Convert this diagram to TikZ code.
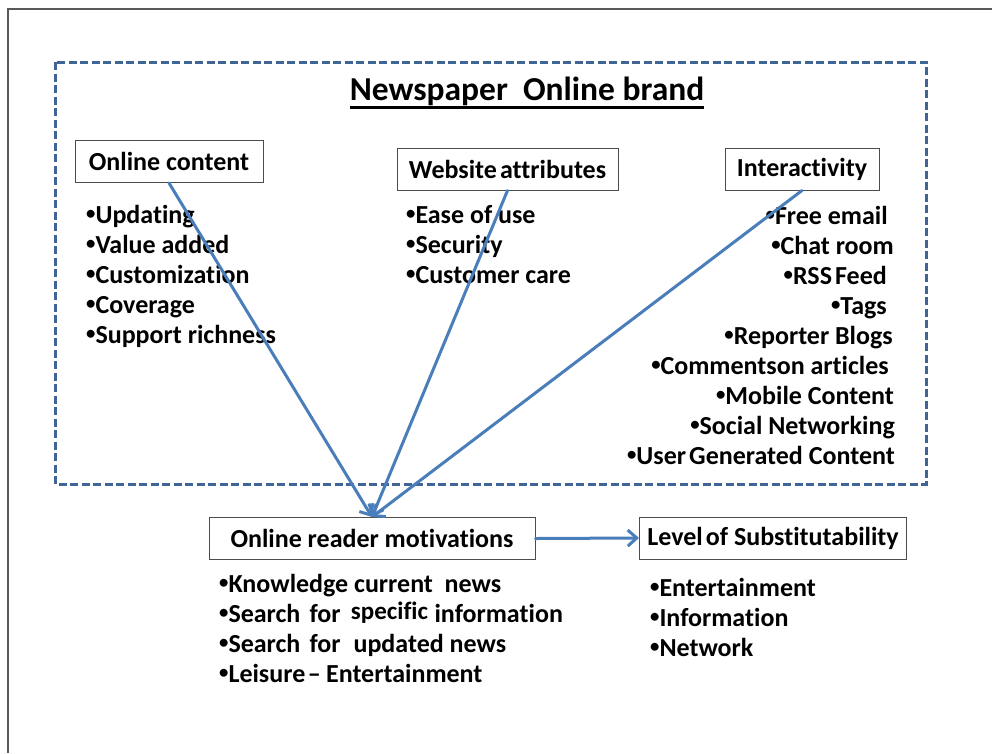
\documentclass[tikz,border=0pt]{standalone}
\usepackage{fontspec}
\usepackage{graphicx}
\setmainfont{Carlito}[Ligatures=NoCommon]
\usetikzlibrary{arrows.meta}
\definecolor{framegray}{HTML}{595959}
\definecolor{brandblue}{HTML}{3F6495}
\definecolor{linkblue}{HTML}{4A7EBB}
% small list bullet
\newcommand{\lbul}{\raisebox{0.12em}{\scalebox{0.72}{•}}}
\begin{document}
\begin{tikzpicture}[x=1pt,y=-1pt,
  box/.style={draw=black!70, line width=1pt, inner sep=0pt, minimum height=42pt,
    font=\fontsize{26}{30}\selectfont\bfseries},
  item/.style={inner sep=0pt, font=\fontsize{26}{30}\selectfont\bfseries},
  link/.style={draw=linkblue, line width=3pt, line cap=round,
    -{Straight Barb[length=9pt,width=16pt]}}]
\useasboundingbox (0,0) rectangle (992,753);

% page frame
\draw[framegray, line width=1.3pt] (8,753) -- (8,9) -- (992,9);

% brand region
\draw[brandblue, line width=3pt, dash pattern=on 8pt off 3.5pt] (55,62) rectangle (926,484);
\node[inner sep=0pt, anchor=base, font=\fontsize{33.5}{38}\selectfont\bfseries] (title) at (527,100) {Newspaper\ \ Online brand};
\draw[black, line width=2.4pt] ([yshift=-7.5pt]title.base west) -- ([yshift=-7.5pt]title.base east);

% category boxes
\node[box, minimum width=188pt] (content) at (169,161.5) {Online content};
\node[box, minimum width=221pt] (website) at (507.5,169) {Website\hspace{0.12em}attributes};
\node[box, minimum width=154pt] (inter) at (802,169) {Interactivity};

% online content items
\node[item, anchor=base west] (c1) at (86,223) {\lbul Updating};
\node[item, anchor=base west] (c2) at (86,253) {\lbul Value added};
\node[item, anchor=base west] (c3) at (86,283) {\lbul Customization};
\node[item, anchor=base west] (c4) at (86,313) {\lbul Coverage};
\node[item, anchor=base west] (c5) at (86,343) {\lbul Support richness};

% website attribute items
\node[item, anchor=base west] (w1) at (406,223) {\lbul Ease of use};
\node[item, anchor=base west] (w2) at (406,253) {\lbul Security};
\node[item, anchor=base west] (w3) at (406,283) {\lbul Customer care};

% interactivity items
\node[item, anchor=base east] (i1) at (888,224) {\lbul Free email};
\node[item, anchor=base east] (i2) at (894,254) {\lbul Chat room};
\node[item, anchor=base east] (i3) at (887,284) {\lbul RSS\hspace{0.12em}Feed};
\node[item, anchor=base east] (i4) at (887,314) {\lbul Tags};
\node[item, anchor=base east] (i5) at (893,344) {\lbul Reporter Blogs};
\node[item, anchor=base east] (i6) at (889,374) {\lbul Commentson articles};
\node[item, anchor=base east] (i7) at (894,404) {\lbul Mobile Content};
\node[item, anchor=base east] (i8) at (895,434) {\lbul Social Networking};
\node[item, anchor=base east] (i9) at (895,464) {\lbul User\hspace{0.12em}Generated Content};

% outcome boxes
\node[box, minimum width=326pt] (motiv) at (372,538.5) {Online reader motivations};
\node[box, minimum width=267pt] (subst) at (773,538) {Level\hspace{0.12em}of Substitutability};

% motivation items
\node[item, anchor=base west] (m1) at (219,592) {\lbul Knowledge current\hspace{0.45em}news};
\node[item, anchor=base west] (m2) at (219,622) {\lbul Search\hspace{0.35em}for\hspace{0.4em}\raisebox{3pt}{\fontsize{25}{28}\selectfont specific}\hspace{0.25em}information};
\node[item, anchor=base west] (m3) at (219,652) {\lbul Search\hspace{0.35em}for\hspace{0.5em}updated news};
\node[item, anchor=base west] (m4) at (219,682) {\lbul Leisure\hspace{0.1em}–\hspace{0.2em}Entertainment};

% substitutability items
\node[item, anchor=base west] (s1) at (650,596) {\lbul Entertainment};
\node[item, anchor=base west] (s2) at (650,626) {\lbul Information};
\node[item, anchor=base west] (s3) at (650,656) {\lbul Network};

% connectors
\draw[link] (content.south) -- (motiv.north);
\draw[link] (website.south) -- (motiv.north);
\draw[link] (inter.south) -- (motiv.north);
\draw[link] (motiv.east) -- (subst.west);
\end{tikzpicture}
\end{document}
